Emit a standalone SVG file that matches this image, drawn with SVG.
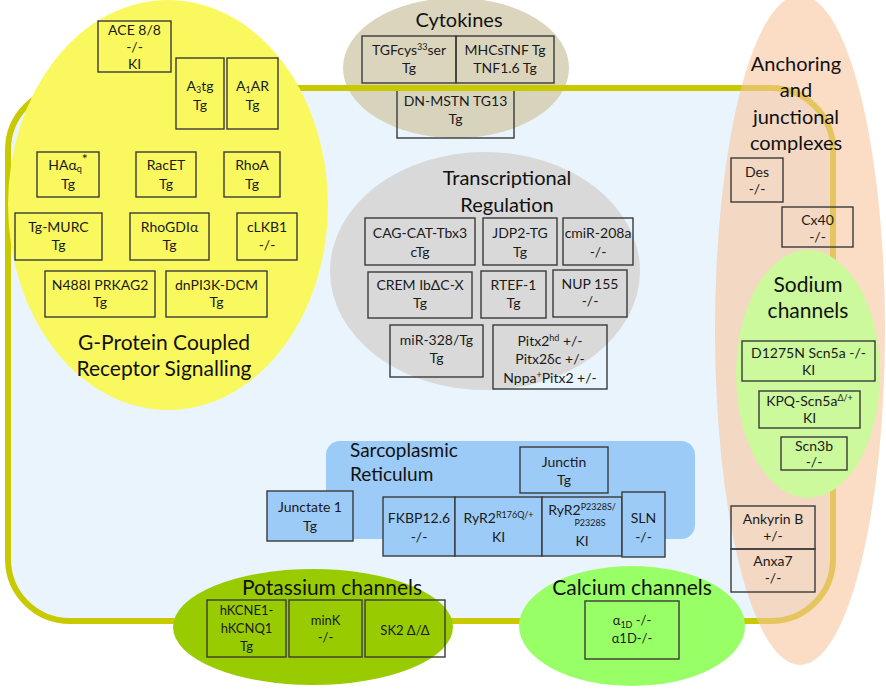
<svg xmlns="http://www.w3.org/2000/svg" width="886" height="690" viewBox="0 0 886 690">
<style>
.bx{fill:none;stroke:#3a3a3a;stroke-width:1.4}
.t{font-family:Lato,"Liberation Sans",sans-serif;font-size:14px;text-anchor:middle;fill:#1a1a1a}
.h{font-family:Lato,"Liberation Sans",sans-serif;font-size:21px;text-anchor:middle;fill:#111}
.sup{font-size:9px}
</style>
<rect width="886" height="690" fill="#ffffff"/>
<g id="cell-fill"><rect x="8" y="88" width="825" height="533" rx="62" fill="#eaf4fd"/></g>
<g id="cytokines">
<ellipse cx="456" cy="68" rx="113" ry="70" fill="#d2cbac" opacity="0.8"/>
<text class="h" x="459" y="27" style="font-size:20px">Cytokines</text>
<rect class="bx" x="362" y="36" width="94" height="47"/>
<text class="t" x="409" y="55">TGFcys<tspan class="sup" dy="-5">33</tspan><tspan dy="5">ser</tspan></text>
<text class="t" x="409" y="73">Tg</text>
<rect class="bx" x="456" y="36" width="98" height="47"/>
<text class="t" x="505" y="55">MHCsTNF Tg</text>
<text class="t" x="505" y="73">TNF1.6 Tg</text>
<rect class="bx" x="397" y="87" width="117" height="51"/>
<text class="t" x="455.5" y="106">DN-MSTN TG13</text>
<text class="t" x="455.5" y="124">Tg</text>
</g>
<g id="connectors"><rect x="8" y="88" width="825" height="533" rx="62" fill="none" stroke="#c9c900" stroke-width="6"/></g>
<g id="gpcr">
<ellipse cx="168" cy="205" rx="160" ry="205" fill="#f9f95f"/>
<rect class="bx" x="98" y="21" width="73" height="51"/>
<text class="t" x="134.5" y="35">ACE 8/8</text>
<text class="t" x="134.5" y="52">-/-</text>
<text class="t" x="134.5" y="69">KI</text>
<rect class="bx" x="176" y="58" width="48" height="71"/>
<text class="t" x="200" y="91">A<tspan class="sup" dy="2">3</tspan><tspan dy="-2">tg</tspan></text>
<text class="t" x="200" y="110">Tg</text>
<rect class="bx" x="227" y="58" width="51" height="71"/>
<text class="t" x="252.5" y="91">A<tspan class="sup" dy="2">1</tspan><tspan dy="-2">AR</tspan></text>
<text class="t" x="252.5" y="110">Tg</text>
<rect class="bx" x="37" y="152" width="62" height="45"/>
<text class="t" x="68" y="170">HAα<tspan class="sup" dy="2">q</tspan><tspan dy="-8">*</tspan></text>
<text class="t" x="68" y="189">Tg</text>
<rect class="bx" x="136" y="152" width="60" height="45"/>
<text class="t" x="166" y="170">RacET</text>
<text class="t" x="166" y="189">Tg</text>
<rect class="bx" x="224" y="152" width="56" height="45"/>
<text class="t" x="252" y="170">RhoA</text>
<text class="t" x="252" y="189">Tg</text>
<rect class="bx" x="15" y="213" width="87" height="47"/>
<text class="t" x="58.5" y="232">Tg-MURC</text>
<text class="t" x="58.5" y="250">Tg</text>
<rect class="bx" x="130" y="213" width="79" height="47"/>
<text class="t" x="169.5" y="232">RhoGDIα</text>
<text class="t" x="169.5" y="250">Tg</text>
<rect class="bx" x="237" y="213" width="60" height="47"/>
<text class="t" x="267" y="232">cLKB1</text>
<text class="t" x="267" y="250">-/-</text>
<rect class="bx" x="45" y="271" width="110" height="46"/>
<text class="t" x="100" y="290">N488I PRKAG2</text>
<text class="t" x="100" y="307">Tg</text>
<rect class="bx" x="166" y="271" width="101" height="46"/>
<text class="t" x="216.5" y="290">dnPI3K-DCM</text>
<text class="t" x="216.5" y="307">Tg</text>
<text class="h" x="164" y="350">G-Protein Coupled</text>
<text class="h" x="164" y="376">Receptor Signalling</text>
</g>
<g id="anchoring">
<ellipse cx="800" cy="330" rx="85" ry="335" fill="#f8c59d" opacity="0.6"/>
<text class="h" x="796" y="71" style="font-size:20px">Anchoring</text>
<text class="h" x="796" y="97" style="font-size:20px">and</text>
<text class="h" x="796" y="124" style="font-size:20px">junctional</text>
<text class="h" x="796" y="150" style="font-size:20px">complexes</text>
<rect class="bx" x="731" y="158" width="52" height="44"/>
<text class="t" x="757" y="177">Des</text>
<text class="t" x="757" y="194">-/-</text>
<rect class="bx" x="782" y="207" width="71" height="40"/>
<text class="t" x="817.5" y="225">Cx40</text>
<text class="t" x="817.5" y="242">-/-</text>
<rect class="bx" x="731" y="506" width="84" height="43"/>
<text class="t" x="773" y="524">Ankyrin B</text>
<text class="t" x="773" y="541">+/-</text>
<rect class="bx" x="731" y="549" width="84" height="43"/>
<text class="t" x="773" y="566">Anxa7</text>
<text class="t" x="773" y="583">-/-</text>
</g>
<g id="sodium">
<ellipse cx="808" cy="374" rx="72" ry="124" fill="#ccf99c"/>
<text class="h" x="808" y="292">Sodium</text>
<text class="h" x="808" y="318">channels</text>
<rect class="bx" x="742" y="341" width="133" height="40"/>
<text class="t" x="808.5" y="358">D1275N Scn5a -/-</text>
<text class="t" x="808.5" y="375">KI</text>
<rect class="bx" x="759" y="391" width="101" height="37"/>
<text class="t" x="809.5" y="406">KPQ-Scn5a<tspan class="sup" dy="-5">Δ/+</tspan></text>
<text class="t" x="809.5" y="423">KI</text>
<rect class="bx" x="781" y="437" width="66" height="33"/>
<text class="t" x="814" y="451">Scn3b</text>
<text class="t" x="814" y="467">-/-</text>
</g>
<g id="transcription">
<ellipse cx="485" cy="271" rx="155" ry="119" fill="#d9d9d9"/>
<text class="h" x="507" y="185" style="font-size:20px">Transcriptional</text>
<text class="h" x="507" y="212" style="font-size:20px">Regulation</text>
<rect class="bx" x="365" y="218" width="110" height="47"/>
<text class="t" x="420" y="238">CAG-CAT-Tbx3</text>
<text class="t" x="420" y="257">cTg</text>
<rect class="bx" x="483" y="218" width="74" height="47"/>
<text class="t" x="520" y="238">JDP2-TG</text>
<text class="t" x="520" y="257">Tg</text>
<rect class="bx" x="563" y="218" width="70" height="47"/>
<text class="t" x="598" y="238">cmiR-208a</text>
<text class="t" x="598" y="257">-/-</text>
<rect class="bx" x="368" y="272" width="104" height="46"/>
<text class="t" x="420" y="290">CREM IbΔC-X</text>
<text class="t" x="420" y="308">Tg</text>
<rect class="bx" x="481" y="271" width="65" height="47"/>
<text class="t" x="513.5" y="290">RTEF-1</text>
<text class="t" x="513.5" y="308">Tg</text>
<rect class="bx" x="553" y="270" width="74" height="47"/>
<text class="t" x="590" y="289">NUP 155</text>
<text class="t" x="590" y="306">-/-</text>
<rect class="bx" x="390" y="325" width="93" height="52"/>
<text class="t" x="436.5" y="345">miR-328/Tg</text>
<text class="t" x="436.5" y="363">Tg</text>
<rect class="bx" x="493" y="325" width="114" height="64"/>
<text class="t" x="550" y="346">Pitx2<tspan class="sup" dy="-5">hd</tspan><tspan dy="5"> +/-</tspan></text>
<text class="t" x="550" y="364">Pitx2δc +/-</text>
<text class="t" x="550" y="383">Nppa<tspan class="sup" dy="-5">+</tspan><tspan dy="5">Pitx2 +/-</tspan></text>
</g>
<g id="sr">
<rect x="326" y="441" width="369" height="98" rx="14" fill="#9dcbf7"/>
<text class="h" x="350" y="457" style="font-size:19px;text-anchor:start">Sarcoplasmic</text>
<text class="h" x="350" y="481" style="font-size:19px;text-anchor:start">Reticulum</text>
<rect class="bx" x="520" y="447" width="88" height="46" style="fill:#9dcbf7"/>
<text class="t" x="564" y="467">Junctin</text>
<text class="t" x="564" y="485">Tg</text>
<rect class="bx" x="267" y="491" width="86" height="50" style="fill:#9dcbf7"/>
<text class="t" x="310" y="512">Junctate 1</text>
<text class="t" x="310" y="531">Tg</text>
<rect class="bx" x="383" y="497" width="72" height="59" style="fill:#9dcbf7"/>
<text class="t" x="419" y="523">FKBP12.6</text>
<text class="t" x="419" y="542">-/-</text>
<rect class="bx" x="455" y="497" width="87" height="59" style="fill:#9dcbf7"/>
<text class="t" x="498.5" y="523">RyR2<tspan class="sup" dy="-5">R176Q/+</tspan></text>
<text class="t" x="498.5" y="542">KI</text>
<rect class="bx" x="542" y="497" width="80" height="59" style="fill:#9dcbf7"/>
<text class="t" x="582" y="515">RyR2<tspan class="sup" dy="-5">P2328S/</tspan></text>
<text class="t" x="590" y="526" style="font-size:9px">P2328S</text>
<text class="t" x="582" y="546">KI</text>
<rect class="bx" x="622" y="492" width="43" height="65" style="fill:#9dcbf7"/>
<text class="t" x="643.5" y="523">SLN</text>
<text class="t" x="643.5" y="542">-/-</text>
</g>
<g id="potassium">
<ellipse cx="313" cy="627" rx="140" ry="58" fill="#99cc00"/>
<text class="h" x="332" y="595">Potassium channels</text>
<rect class="bx" x="207" y="600" width="79" height="57"/>
<text class="t" x="246.5" y="615" style="font-size:13px">hKCNE1-</text>
<text class="t" x="246.5" y="633" style="font-size:13px">hKCNQ1</text>
<text class="t" x="246.5" y="651" style="font-size:13px">Tg</text>
<rect class="bx" x="289" y="600" width="73" height="57"/>
<text class="t" x="325.5" y="625" style="font-size:13px">minK</text>
<text class="t" x="325.5" y="642" style="font-size:13px">-/-</text>
<rect class="bx" x="365" y="600" width="80" height="57"/>
<text class="t" x="405" y="635" style="font-size:13px">SK2 Δ/Δ</text>
</g>
<g id="calcium">
<ellipse cx="632" cy="626" rx="113" ry="60" fill="#99ff66"/>
<text class="h" x="632" y="595">Calcium channels</text>
<rect class="bx" x="585" y="601" width="94" height="58"/>
<text class="t" x="632" y="625" style="font-size:13px">α<tspan class="sup" dy="3">1D</tspan><tspan dy="-3"> -/-</tspan></text>
<text class="t" x="632" y="643" style="font-size:13px">α1D-/-</text>
</g>
</svg>
